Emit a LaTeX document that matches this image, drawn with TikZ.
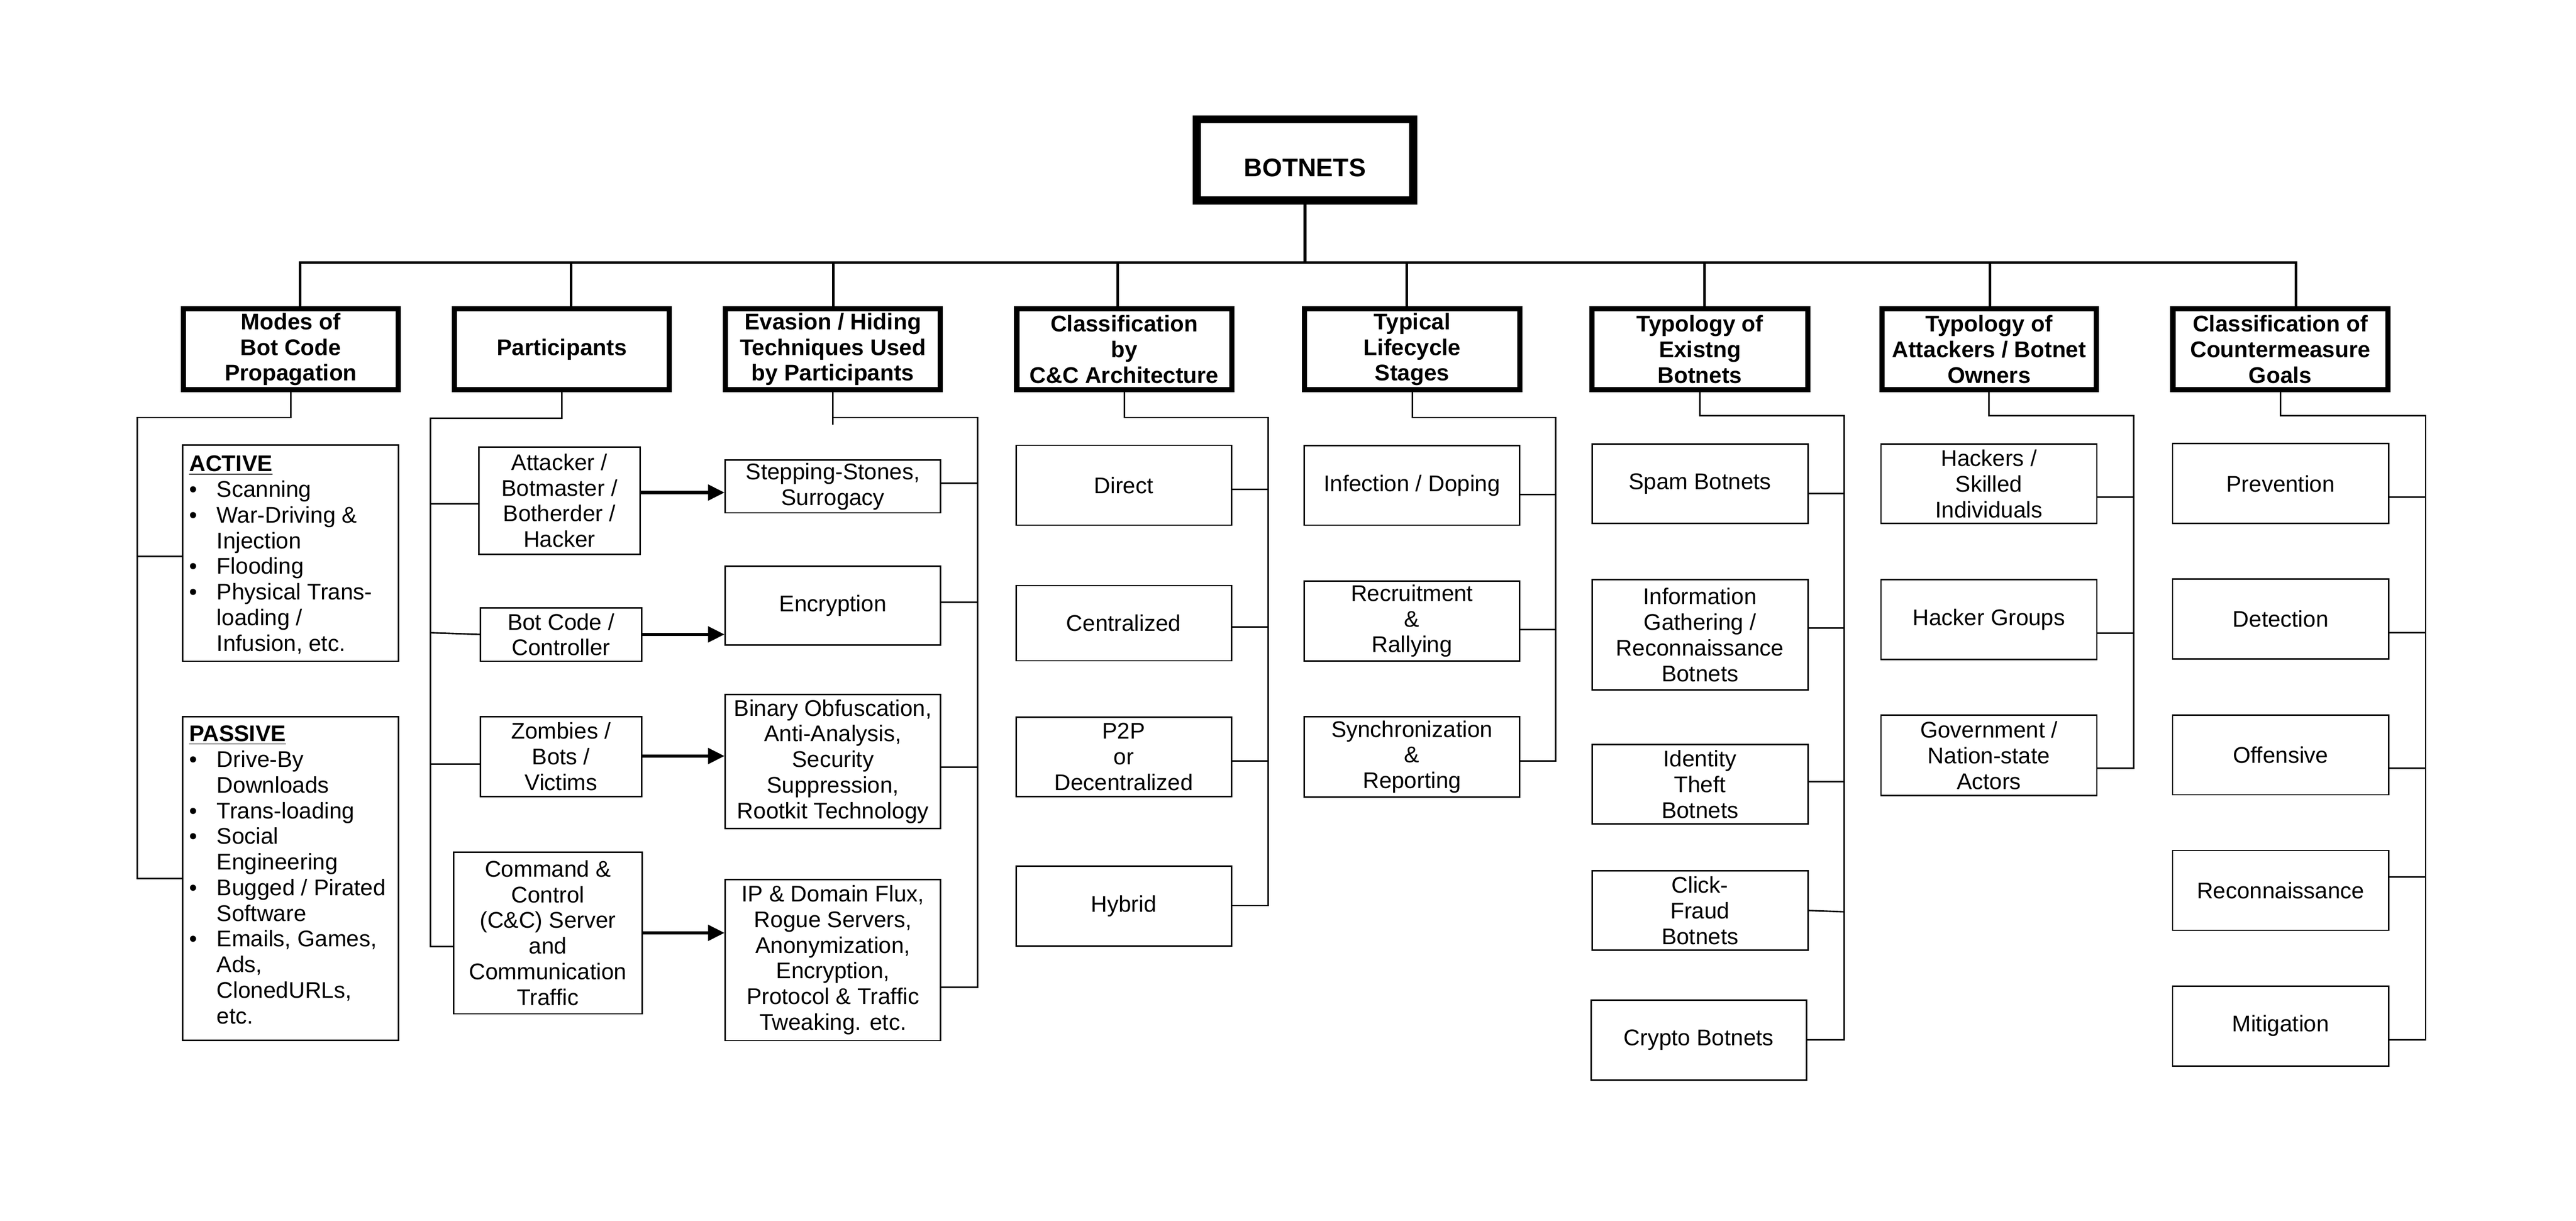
\documentclass[tikz,border=0pt]{standalone}
\usepackage{fontspec}
\setmainfont{Liberation Sans}
\usetikzlibrary{arrows.meta}
\newcommand\fs{\fontsize{13.8}{15.6}\selectfont}
\newcommand\bl{\makebox[16.8pt][l]{\textbullet}}
\newcommand\ind{\hspace*{16.8pt}}
% #1 style, #2 name, #3 x1, #4 y1, #5 x2, #6 y2 (outer bounds), #7 line width, #8 text
\newcommand\placebox[8]{%
  \node[#1, line width=#7pt, minimum width={(#5-#3-#7)*1pt}, minimum height={(#6-#4-#7)*1pt}]
    (#2) at ({(#3+#5)/2},{(#4+#6)/2}) {#8};}
\tikzset{
  rootbox/.style={draw, inner sep=0pt, font=\fontsize{15.5}{18}\selectfont\bfseries, text height=20.5pt, text depth=0pt},
  catbox/.style={draw, align=center, inner sep=1pt, font=\fs\bfseries},
  itembox/.style={draw, align=center, inner sep=1pt, font=\fs},
  listtext/.style={anchor=west, align=left, inner sep=0pt, font=\fs},
  topline/.style={line width=1.6pt},
  conn/.style={line width=0.9pt},
  arr/.style={line width=2pt, -{Triangle[length=10pt,width=9.4pt]}},
}
\begin{document}
\begin{tikzpicture}[x=1pt,y=-1pt]
\useasboundingbox (0,0) rectangle (1568,742.8);

% root
\placebox{rootbox}{root}{726}{70.1}{862.7}{124.5}{5}{BOTNETS}

% categories
\placebox{catbox}{m1}{110}{186.3}{244}{238.8}{3.2}{Modes of\\Bot Code\\Propagation}
\placebox{catbox}{m2}{275}{186.3}{409}{238.8}{3.2}{Participants}
\placebox{catbox}{m3}{440}{186.3}{574}{238.8}{3.2}{Evasion / Hiding\\Techniques Used\\by Participants}
\placebox{catbox}{m4}{617.3}{186.3}{751.3}{238.8}{3.2}{Classification\\by\\C\&C Architecture}
\placebox{catbox}{m5}{792.5}{186.3}{926.7}{238.8}{3.2}{Typical\\Lifecycle\\Stages}
\placebox{catbox}{m6}{967.4}{186.3}{1102}{238.8}{3.2}{Typology of\\Existng\\Botnets}
\placebox{catbox}{m7}{1144}{186.3}{1277.5}{238.8}{3.2}{Typology of\\Attackers / Botnet\\Owners}
\placebox{catbox}{m8}{1321}{186.3}{1455}{238.8}{3.2}{Classification of\\Countermeasure\\Goals}

% bus
\coordinate (d1) at (182.7,159.7);
\coordinate (d2) at (347.6,159.7);
\coordinate (d3) at (507.3,159.7);
\coordinate (d4) at (680.3,159.7);
\coordinate (d5) at (856.3,159.7);
\coordinate (d6) at (1037.6,159.7);
\coordinate (d7) at (1211.4,159.7);
\coordinate (d8) at (1397.4,159.7);
\draw[topline] (root.south) -- (root.south |- d1);
\draw[topline, line join=miter] (d1 |- m1.north) -- (d1) -- (d8) -- (d8 |- m8.north);
\draw[topline] (d2) -- (d2 |- m2.north);
\draw[topline] (d3) -- (d3 |- m3.north);
\draw[topline] (d4) -- (d4 |- m4.north);
\draw[topline] (d5) -- (d5 |- m5.north);
\draw[topline] (d6) -- (d6 |- m6.north);
\draw[topline] (d7) -- (d7 |- m7.north);

% ---------- column 1: modes
\placebox{itembox}{act}{110.7}{270.4}{243}{402.8}{0.9}{}
\placebox{itembox}{pas}{110.7}{435.5}{243}{633.5}{0.9}{}
\node[listtext] (acttxt) at (115,337.6) {\textbf{\underline{ACTIVE}}\\
  \bl Scanning\\ \bl War-Driving \&\\ \ind Injection\\ \bl Flooding\\
  \bl Physical Trans-\\ \ind loading /\\ \ind Infusion, etc.};
\node[listtext] (pastxt) at (115,532.3) {\textbf{\underline{PASSIVE}}\\
  \bl Drive-By\\ \ind Downloads\\ \bl Trans-loading\\ \bl Social\\
  \ind Engineering\\ \bl Bugged / Pirated\\ \ind Software\\
  \bl Emails, Games,\\ \ind Ads,\\ \ind ClonedURLs,\\ \ind etc.};
\draw[conn] (m1.south) -- (m1.south |- 0,254) -- (83.6,254) -- (83.6,534.5) -- (pas.west |- 0,534.5);
\draw[conn] (83.6,338.4) -- (act.west |- 0,338.4);

% ---------- column 2: participants
\placebox{itembox}{att}{291}{271.6}{390}{337.6}{0.9}{Attacker /\\Botmaster /\\Botherder /\\Hacker}
\placebox{itembox}{bot}{292}{369.5}{391}{402.8}{0.9}{Bot Code /\\Controller}
\placebox{itembox}{zom}{292}{435.5}{391}{485}{0.9}{Zombies /\\Bots /\\Victims}
\placebox{itembox}{cnc}{275.7}{518}{391.3}{617.3}{0.9}{Command \&\\Control\\(C\&C) Server\\and\\Communication\\Traffic}
\draw[conn] (m2.south) -- (m2.south |- 0,254.4) -- (262,254.4) -- (262,576) -- (cnc.west |- 0,576);
\draw[conn] (262,306.6) -- (att.west |- 0,306.6);
\draw[conn] (262,385) -- (bot.west |- 0,386);
\draw[conn] (262,465) -- (zom.west |- 0,465);

% ---------- column 3: evasion
\placebox{itembox}{stp}{441}{279.5}{573}{312.5}{0.9}{Stepping-Stones,\\Surrogacy}
\placebox{itembox}{enc}{441}{344}{573}{393}{0.9}{Encryption}
\placebox{itembox}{bin}{441}{422}{573}{504.5}{0.9}{Binary Obfuscation,\\Anti-Analysis,\\Security\\Suppression,\\Rootkit Technology}
\placebox{itembox}{ipd}{441}{534.6}{573}{633.6}{0.9}{IP \& Domain Flux,\\Rogue Servers,\\Anonymization,\\Encryption,\\Protocol \& Traffic\\Tweaking. etc.}
\draw[conn] (m3.south) -- (m3.south |- 0,258.5);
\draw[conn] (m3.south |- 0,254) -- (595,254) -- (595,600.6) -- (ipd.east |- 0,600.6);
\draw[conn] (stp.east |- 0,294) -- (595,294);
\draw[conn] (enc.east |- 0,366.4) -- (595,366.4);
\draw[conn] (bin.east |- 0,466.7) -- (595,466.7);

% arrows participants -> evasion
\draw[arr] (att.east |- 0,299.7) -- (stp.west |- 0,299.7);
\draw[arr] (bot.east |- 0,386) -- (enc.west |- 0,386);
\draw[arr] (zom.east |- 0,460) -- (bin.west |- 0,460);
\draw[arr] (cnc.east |- 0,567.6) -- (ipd.west |- 0,567.6);

% ---------- column 4: C&C architecture
\placebox{itembox}{dir}{618}{270.5}{750}{320}{0.9}{Direct}
\placebox{itembox}{cen}{618}{355.8}{750}{402.5}{0.9}{Centralized}
\placebox{itembox}{p2p}{618}{435.9}{750}{485.1}{0.9}{P2P\\or\\Decentralized}
\placebox{itembox}{hyb}{618}{526.5}{750}{576}{0.9}{Hybrid}
\draw[conn] (m4.south) -- (m4.south |- 0,254) -- (772,254) -- (772,551) -- (hyb.east |- 0,551);
\draw[conn] (dir.east |- 0,297.7) -- (772,297.7);
\draw[conn] (cen.east |- 0,381.4) -- (772,381.4);
\draw[conn] (p2p.east |- 0,463) -- (772,463);

% ---------- column 5: lifecycle
\placebox{itembox}{inf}{793.5}{270.7}{925.4}{320}{0.9}{Infection / Doping}
\placebox{itembox}{rec}{793.5}{353}{925.4}{402.6}{0.9}{Recruitment\\\&\\Rallying}
\placebox{itembox}{syn}{793.5}{435.7}{925.4}{485.4}{0.9}{Synchronization\\\&\\Reporting}
\draw[conn] (m5.south) -- (m5.south |- 0,254) -- (947,254) -- (947,463) -- (syn.east |- 0,463);
\draw[conn] (inf.east |- 0,301) -- (947,301);
\draw[conn] (rec.east |- 0,383) -- (947,383);

% ---------- column 6: existing botnets
\placebox{itembox}{spm}{968.6}{269.7}{1100.9}{319}{0.9}{Spam Botnets}
\placebox{itembox}{igr}{968.6}{352.3}{1100.9}{420.3}{0.9}{Information\\Gathering /\\Reconnaissance\\Botnets}
\placebox{itembox}{idt}{968.6}{452.5}{1100.9}{501.8}{0.9}{Identity\\Theft\\Botnets}
\placebox{itembox}{clk}{968.6}{529.3}{1100.9}{578.7}{0.9}{Click-\\Fraud\\Botnets}
\placebox{itembox}{cry}{968}{608}{1100}{657.6}{0.9}{Crypto Botnets}
\draw[conn] (m6.south) -- (m6.south |- 0,253) -- (1122.6,253) -- (1122.6,632.7) -- (cry.east |- 0,632.7);
\draw[conn] (spm.east |- 0,300.3) -- (1122.6,300.3);
\draw[conn] (igr.east |- 0,382) -- (1122.6,382);
\draw[conn] (idt.east |- 0,475.6) -- (1122.6,475.6);
\draw[conn] (clk.east |- 0,554) -- (1122.6,554.8);

% ---------- column 7: attackers
\placebox{itembox}{hk}{1144.5}{269.8}{1276.8}{319}{0.9}{Hackers /\\Skilled\\Individuals}
\placebox{itembox}{hg}{1144.5}{352.3}{1276.8}{401.8}{0.9}{Hacker Groups}
\placebox{itembox}{gov}{1144.5}{434.8}{1276.8}{484.4}{0.9}{Government /\\Nation-state\\Actors}
\draw[conn] (m7.south) -- (m7.south |- 0,253) -- (1298.7,253) -- (1298.7,467.5) -- (gov.east |- 0,467.5);
\draw[conn] (hk.east |- 0,302.6) -- (1298.7,302.6);
\draw[conn] (hg.east |- 0,385.2) -- (1298.7,385.2);

% ---------- column 8: countermeasures
\placebox{itembox}{pre}{1322}{269.5}{1454.4}{319}{0.9}{Prevention}
\placebox{itembox}{det}{1322}{352}{1454.4}{401.4}{0.9}{Detection}
\placebox{itembox}{off}{1322}{434.6}{1454.4}{484}{0.9}{Offensive}
\placebox{itembox}{rcn}{1322}{517}{1454.4}{566.5}{0.9}{Reconnaissance}
\placebox{itembox}{mit}{1322}{599.5}{1454.4}{649}{0.9}{Mitigation}
\draw[conn] (m8.south) -- (m8.south |- 0,253) -- (1476.4,253) -- (1476.4,632.6) -- (mit.east |- 0,632.6);
\draw[conn] (pre.east |- 0,302.4) -- (1476.4,302.4);
\draw[conn] (det.east |- 0,385) -- (1476.4,385);
\draw[conn] (off.east |- 0,467.5) -- (1476.4,467.5);
\draw[conn] (rcn.east |- 0,533.5) -- (1476.4,533.5);
\end{tikzpicture}
\end{document}
